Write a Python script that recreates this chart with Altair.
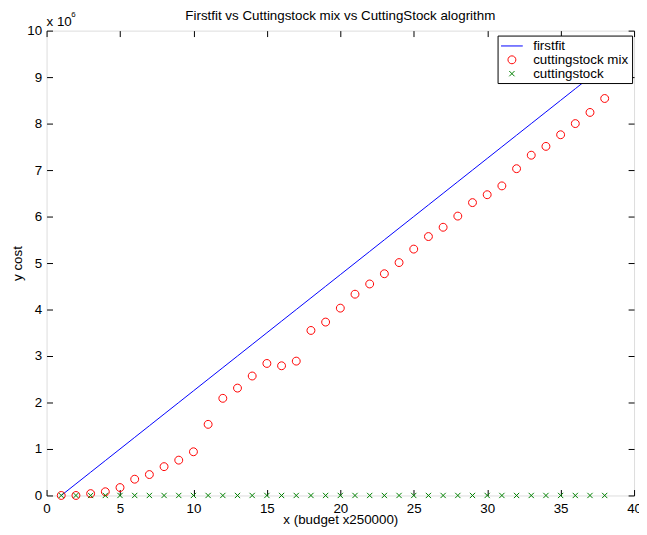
import altair as alt
import pandas as pd

# ---- data ----
budget = [1, 2, 3, 4, 5, 6, 7, 8, 9, 10, 11, 12, 13, 14, 15, 16, 17, 18, 19,
          20, 21, 22, 23, 24, 25, 26, 27, 28, 29, 30, 31, 32, 33, 34, 35, 36, 37, 38]
firstfit = [0.00, 0.25, 0.50, 0.75, 1.00, 1.25, 1.50, 1.75, 2.00, 2.25, 2.50, 2.75,
            3.00, 3.25, 3.50, 3.75, 4.00, 4.25, 4.50, 4.75, 5.00, 5.25, 5.50, 5.75,
            6.00, 6.25, 6.50, 6.75, 7.00, 7.25, 7.50, 7.75, 8.00, 8.25, 8.50, 8.75,
            9.00, 9.25]
cutting_mix = [0.00, 0.00, 0.04, 0.08, 0.17, 0.35, 0.45, 0.62, 0.76, 0.94, 1.53, 2.09,
               2.31, 2.57, 2.84, 2.79, 2.89, 3.55, 3.73, 4.03, 4.33, 4.55, 4.77, 5.01,
               5.30, 5.57, 5.77, 6.01, 6.30, 6.47, 6.66, 7.03, 7.32, 7.51, 7.76, 8.00,
               8.24, 8.54]
cutting = [0, 0, 0, 0, 0, 0, 0, 0, 0, 0, 0, 0, 0, 0, 0, 0, 0, 0, 0,
           0, 0, 0, 0, 0, 0, 0, 0, 0, 0, 0, 0, 0, 0, 0, 0, 0, 0, 0]

series_names = ["firstfit", "cuttingstock mix", "cuttingstock"]
series_colors = ["#0000ff", "#ff0000", "#008000"]
x_ticks = [0, 5, 10, 15, 20, 25, 30, 35, 40]
y_ticks = [0, 1, 2, 3, 4, 5, 6, 7, 8, 9, 10]

title_text = "Firstfit vs Cuttingstock mix vs CuttingStock alogrithm"
x_title = "x (budget x250000)"
y_title = "y cost"

FONT = "Liberation Sans"
FS = 13.5
W, H = 594, 470

df_ff = pd.DataFrame({"x": budget, "y": firstfit, "series": series_names[0]})
df_mix = pd.DataFrame({"x": budget, "y": cutting_mix, "series": series_names[1]})
df_cut = pd.DataFrame({"x": budget, "y": cutting, "series": series_names[2]})

xscale = alt.Scale(domain=[0, 40], nice=False, zero=False)
yscale = alt.Scale(domain=[0, 10], nice=False, zero=False)

color_scale = alt.Scale(domain=series_names, range=series_colors)
shape_scale = alt.Scale(
    domain=series_names,
    range=[
        "M-1.57,0H1.57",
        "M0.57,0A0.57,0.57,0,1,1,-0.57,0A0.57,0.57,0,1,1,0.57,0Z",
        "M-0.38,-0.38L0.38,0.38M-0.38,0.38L0.38,-0.38",
    ],
)

common_axis = dict(grid=False, labelFont=FONT, labelFontSize=FS, labelColor="black",
                   tickColor="black", labelFlush=False, labelOverlap=False)

# main axes: labels + titles, no ticks
x_main = alt.Axis(orient="bottom", values=x_ticks, ticks=False, domain=False,
                  labelPadding=6, title=x_title, titleFont=FONT, titleFontSize=FS,
                  titleFontWeight="normal", titleColor="black", titleY=28,
                  titleBaseline="alphabetic", **common_axis)
y_main = alt.Axis(orient="left", values=y_ticks, ticks=False, domain=False,
                  labelPadding=5, title=y_title, titleFont=FONT, titleFontSize=FS,
                  titleFontWeight="normal", titleColor="black", titleX=-25,
                  titleAngle=270, titleBaseline="alphabetic", **common_axis)
# inward ticks (axes moved across the plot)
x_tick_bottom = alt.Axis(orient="top", offset=-H, values=x_ticks, ticks=True, tickSize=6,
                         labels=False, domain=False, title=None, **common_axis)
y_tick_left = alt.Axis(orient="right", offset=-W, values=y_ticks, ticks=True, tickSize=6,
                       labels=False, domain=False, title=None, **common_axis)
x_tick_top = alt.Axis(orient="bottom", offset=-H, values=x_ticks, ticks=True, tickSize=6,
                      labels=False, domain=False, title=None, **common_axis)
y_tick_right = alt.Axis(orient="left", offset=-W, values=y_ticks, ticks=True, tickSize=6,
                        labels=False, domain=False, title=None, **common_axis)

line = alt.Chart(df_ff).mark_line(color="#0000ff", strokeWidth=1).encode(
    x=alt.X("x:Q", scale=xscale, axis=x_main),
    y=alt.Y("y:Q", scale=yscale, axis=y_main),
)

legend = alt.Legend(
    title=None, orient="none", legendX=456, legendY=5, padding=3,
    strokeColor="black", fillColor="white", cornerRadius=0,
    labelFont=FONT, labelFontSize=FS, labelColor="black",
    symbolSize=196, symbolStrokeWidth=1, symbolOffset=4, labelOffset=14,
    rowPadding=-0.5,
)

mix = alt.Chart(df_mix).mark_point(filled=False, strokeWidth=1, size=196, opacity=1).encode(
    x=alt.X("x:Q", scale=xscale, axis=x_tick_bottom),
    y=alt.Y("y:Q", scale=yscale, axis=y_tick_left),
    color=alt.Color("series:N", scale=color_scale, legend=legend),
    shape=alt.Shape("series:N", scale=shape_scale, legend=legend),
)

cut = alt.Chart(df_cut).mark_point(filled=False, strokeWidth=1, size=196, opacity=1).encode(
    x=alt.X("x:Q", scale=xscale, axis=x_tick_top),
    y=alt.Y("y:Q", scale=yscale, axis=y_tick_right),
    color=alt.Color("series:N", scale=color_scale, legend=legend),
    shape=alt.Shape("series:N", scale=shape_scale, legend=legend),
)

title = alt.Chart(pd.DataFrame({"t": [title_text]})).mark_text(
    align="center", baseline="alphabetic", font=FONT, fontSize=FS, color="black"
).encode(x=alt.value(W / 2), y=alt.value(-11), text="t:N")

mult = alt.Chart(pd.DataFrame({"t": ["x 10"]})).mark_text(
    align="left", baseline="alphabetic", font=FONT, fontSize=FS, color="black"
).encode(x=alt.value(0), y=alt.value(-5), text="t:N")

expo = alt.Chart(pd.DataFrame({"t": ["6"]})).mark_text(
    align="left", baseline="alphabetic", font=FONT, fontSize=8, color="black"
).encode(x=alt.value(25), y=alt.value(-14), text="t:N")

chart = (
    alt.layer(line, mix, cut, title, mult, expo)
    .resolve_axis(x="independent", y="independent")
    .properties(
        width=W,
        height=H,
        autosize=alt.AutoSizeParams(type="none"),
        padding={"left": 39, "top": 20, "right": 5, "bottom": 29},
    )
    .configure_view(stroke="black", strokeWidth=1)
    .configure(background="white")
)

chart.save("out.html", embed_options={"renderer": "svg", "actions": False})
